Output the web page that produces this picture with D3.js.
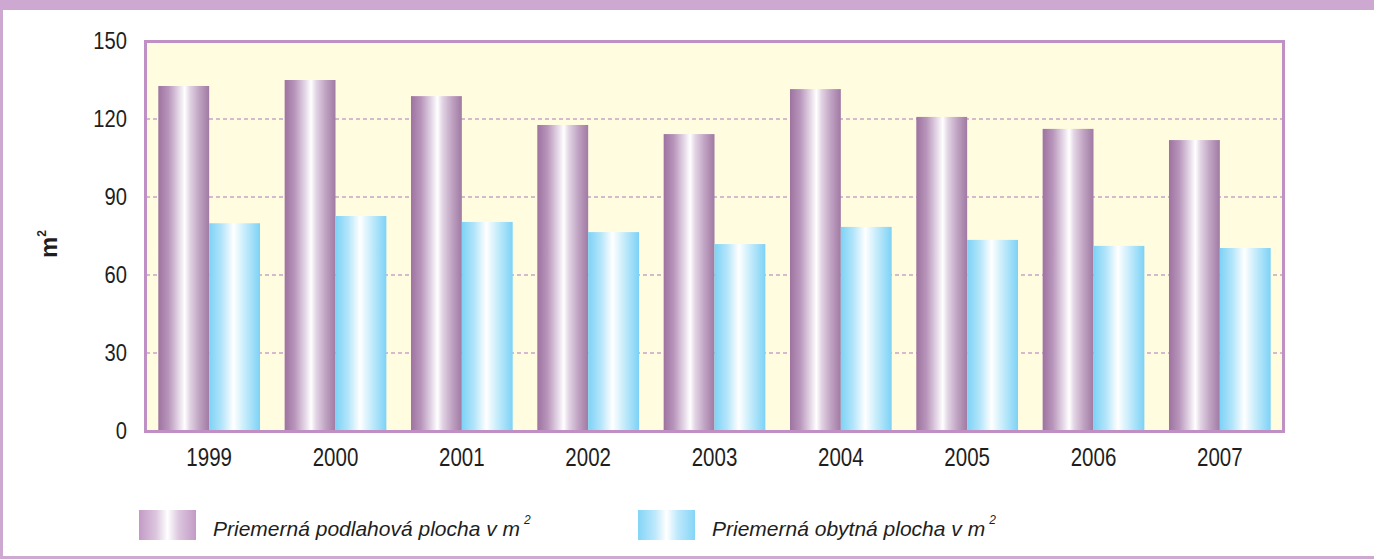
<!DOCTYPE html>
<html>
<head>
<meta charset="utf-8">
<script src="https://cdn.jsdelivr.net/npm/d3@7"></script>
<style>
  body { margin: 0; background: #fff; }
  svg { display: block; }
  text { font-family: "Liberation Sans", Arial, sans-serif; fill: #1e1e1e; }
</style>
</head>
<body>
<script>
// Data
const years = ["1999", "2000", "2001", "2002", "2003", "2004", "2005", "2006", "2007"];
const seriesNames = ["Priemerná podlahová plocha v m", "Priemerná obytná plocha v m"];
const floorArea = [132.7, 135, 128.8, 117.7, 114.2, 131.5, 120.8, 116.2, 111.9];
const livingArea = [79.9, 82.7, 80.4, 76.5, 71.9, 78.5, 73.5, 71.2, 70.4];
const yTicks = [0, 30, 60, 90, 120, 150];

let width = 1374, height = 559;
let plot = { left: 146, right: 1283, top: 41, bottom: 431 };

let svg = d3.select('body')
            .append('svg')
            .attr('width', width)
            .attr('height', height);

// Gradients for the cylinder look
const defs = svg.append("defs");
function addGradient(id, stops) {
    const g = defs.append("linearGradient")
        .attr("id", id)
        .attr("x1", 0).attr("x2", 1).attr("y1", 0).attr("y2", 0);
    stops.forEach(s => g.append("stop").attr("offset", s[0]).attr("stop-color", s[1]));
}
addGradient("gPurple", [[0, "#9d73a0"], [0.2, "#b895bb"], [0.42, "#e8ddea"], [0.52, "#ffffff"], [0.62, "#e2d4e4"], [0.82, "#bd9fc0"], [1, "#a07aa3"]]);
addGradient("gBlue", [[0, "#7dd2f6"], [0.25, "#b4e5fa"], [0.48, "#ffffff"], [0.7, "#c6ecfb"], [1, "#7dd2f6"]]);
addGradient("gPurpleLeg", [[0, "#c39ac6"], [0.3, "#dcc6de"], [0.5, "#ffffff"], [0.7, "#dcc6de"], [1, "#c39ac6"]]);
addGradient("gBlueLeg", [[0, "#84d5f7"], [0.3, "#bde8fb"], [0.5, "#ffffff"], [0.7, "#bde8fb"], [1, "#84d5f7"]]);

// Page frame
const frame = "#cda8d1";
svg.append("rect").attr("x", 0).attr("y", 0).attr("width", width).attr("height", 10).attr("fill", frame);
svg.append("rect").attr("x", 0).attr("y", 0).attr("width", 3).attr("height", height).attr("fill", frame);
svg.append("rect").attr("x", 0).attr("y", 556).attr("width", width).attr("height", 3).attr("fill", frame);

// Scales
const x0 = d3.scaleBand()
    .domain(years)
    .range([plot.left, plot.right])
    .paddingInner(0.195)
    .paddingOuter(0.0975);

const x1 = d3.scaleBand()
    .domain([0, 1])
    .range([0, x0.bandwidth()]);

const y = d3.scaleLinear()
    .domain([0, 150])
    .range([plot.bottom, plot.top]);

// Plot background
svg.append("rect")
   .attr("x", plot.left)
   .attr("y", plot.top)
   .attr("width", plot.right - plot.left)
   .attr("height", plot.bottom - plot.top)
   .attr("fill", "#fffcdf");

// Gridlines
svg.append("g")
   .selectAll("line")
   .data(yTicks.filter(t => t > 0 && t < 150))
   .enter()
   .append("line")
   .attr("x1", plot.left)
   .attr("x2", plot.right)
   .attr("y1", d => y(d))
   .attr("y2", d => y(d))
   .attr("stroke", "#c9a2c9")
   .attr("stroke-width", 1.6)
   .attr("stroke-dasharray", "4,3");

// Bars
const rows = years.map((yr, i) => ({ year: yr, values: [floorArea[i], livingArea[i]] }));
const groups = svg.selectAll("g.bar-group")
    .data(rows)
    .enter()
    .append("g")
    .attr("class", "bar-group")
    .attr("transform", d => `translate(${x0(d.year)},0)`);

groups.selectAll("rect")
    .data(d => d.values.map((v, k) => ({ k, v })))
    .enter()
    .append("rect")
    .attr("x", d => x1(d.k))
    .attr("y", d => y(d.v))
    .attr("width", x1.bandwidth())
    .attr("height", d => y(0) - y(d.v))
    .attr("fill", d => d.k === 0 ? "url(#gPurple)" : "url(#gBlue)");

// Plot border
svg.append("rect")
   .attr("x", plot.left - 0.5)
   .attr("y", plot.top + 0.5)
   .attr("width", plot.right - plot.left + 1)
   .attr("height", plot.bottom - plot.top)
   .attr("fill", "none")
   .attr("stroke", "#c08fc4")
   .attr("stroke-width", 3);

// Condensed look for numbers
function condense(sel, k) {
    sel.each(function() {
        const w = this.getComputedTextLength();
        d3.select(this).attr("textLength", w * k).attr("lengthAdjust", "spacingAndGlyphs");
    });
}

// Y tick labels
svg.append("g")
   .selectAll("text")
   .data(yTicks)
   .enter()
   .append("text")
   .attr("x", 127)
   .attr("y", d => y(d) + 8)
   .attr("text-anchor", "end")
   .style("font-size", "24px")
   .text(d => d)
   .call(condense, 0.84);

// X labels
svg.append("g")
   .selectAll("text")
   .data(years)
   .enter()
   .append("text")
   .attr("x", d => x0(d) + x0.bandwidth() / 2)
   .attr("y", 466)
   .attr("text-anchor", "middle")
   .style("font-size", "25px")
   .text(d => d)
   .call(condense, 0.82);

// Y-axis title
const yt = svg.append("text")
   .attr("transform", "translate(57,244) rotate(-90)")
   .attr("text-anchor", "middle")
   .style("font-size", "24px")
   .style("font-weight", "bold");
yt.append("tspan").text("m");
yt.append("tspan").attr("dy", -11).style("font-size", "12px").text("2");

// Legend
const legendX = [139, 638];
const legendFill = ["url(#gPurpleLeg)", "url(#gBlueLeg)"];
seriesNames.forEach((name, i) => {
    svg.append("rect")
       .attr("x", legendX[i])
       .attr("y", 510)
       .attr("width", 57)
       .attr("height", 30)
       .attr("fill", legendFill[i]);

    const t = svg.append("text")
       .attr("x", legendX[i] + 74)
       .attr("y", 536)
       .style("font-size", "21px")
       .style("font-style", "italic");
    t.append("tspan").text(name);
    t.append("tspan").attr("dx", 4).attr("dy", -12).style("font-size", "12px").text("2");
});
</script>
</body>
</html>
